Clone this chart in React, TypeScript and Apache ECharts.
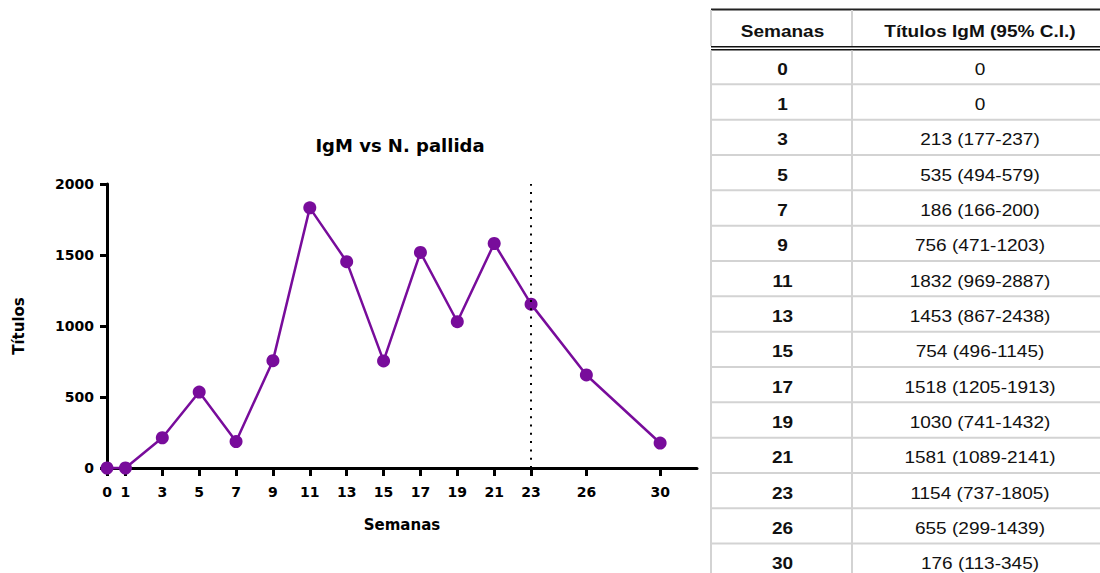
import React, { useEffect, useRef } from "react";
import * as echarts from "echarts";

// ---- data ----
const weeks = [0, 1, 3, 5, 7, 9, 11, 13, 15, 17, 19, 21, 23, 26, 30];
const titers = [0, 0, 213, 535, 186, 756, 1832, 1453, 754, 1518, 1030, 1581, 1154, 655, 176];
const ciLow: (number | null)[] = [null, null, 177, 494, 166, 471, 969, 867, 496, 1205, 741, 1089, 737, 299, 113];
const ciHigh: (number | null)[] = [null, null, 237, 579, 200, 1203, 2887, 2438, 1145, 1913, 1432, 2141, 1805, 1439, 345];
const xTickValues = [0, 1, 3, 5, 7, 9, 11, 13, 15, 17, 19, 21, 23, 26, 30];
const xMax = 32;
const yMax = 2000;
const yInterval = 500;
const markerWeek = 23;
const chartTitle = "IgM vs N. pallida";
const xName = "Semanas";
const yName = "Títulos";
const tableHeaders = ["Semanas", "Títulos IgM (95% C.I.)"];

const PURPLE = "#780c9b";
const CHART_FONT = "DejaVu Sans";
const TABLE_FONT = "Liberation Sans, Arial, sans-serif";

function buildTable(): any[] {
  const x0 = 711;
  const x1 = 852;
  const x2 = 1100;
  const rowTop0 = 49;
  const rowH = 35.33;
  const grey = "#d3d3d3";
  const els: any[] = [];
  els.push({ type: "rect", shape: { x: x0, y: 8.5, width: x2 - x0, height: 2 }, style: { fill: "#222" } });
  els.push({ type: "rect", shape: { x: x0 - 1, y: 10, width: 2, height: 36 }, style: { fill: grey } });
  els.push({ type: "rect", shape: { x: x1 - 1, y: 10, width: 2, height: 36 }, style: { fill: grey } });
  els.push({ type: "rect", shape: { x: x0, y: 45.9, width: x2 - x0, height: 1.5 }, style: { fill: "#111" } });
  els.push({ type: "rect", shape: { x: x0, y: 48.9, width: x2 - x0, height: 1.5 }, style: { fill: "#111" } });
  els.push({ type: "rect", shape: { x: x0 - 1, y: 50.4, width: 2, height: 530 }, style: { fill: grey } });
  els.push({ type: "rect", shape: { x: x1 - 1, y: 50.4, width: 2, height: 530 }, style: { fill: grey } });
  for (let k = 1; k < weeks.length; k++) {
    const y = rowTop0 + rowH * k;
    els.push({ type: "rect", shape: { x: x0, y: y - 1, width: x2 - x0, height: 2 }, style: { fill: grey } });
  }
  const c1 = (x0 + x1) / 2 + 1;
  const c2 = 980;
  const sx = 1.12;
  els.push({
    type: "text", x: c1, y: 31, scaleX: sx,
    style: { text: tableHeaders[0], fill: "#111", font: `bold 17px ${TABLE_FONT}`, textAlign: "center", textVerticalAlign: "middle" },
  });
  els.push({
    type: "text", x: c2, y: 31, scaleX: sx,
    style: { text: tableHeaders[1], fill: "#111", font: `bold 17px ${TABLE_FONT}`, textAlign: "center", textVerticalAlign: "middle" },
  });
  weeks.forEach((w, i) => {
    const cy = rowTop0 + rowH * i + 20;
    const lo = ciLow[i];
    const hi = ciHigh[i];
    const val = lo == null || hi == null ? `${titers[i]}` : `${titers[i]} (${lo}-${hi})`;
    els.push({
      type: "text", x: c1, y: cy, scaleX: sx,
      style: { text: String(w), fill: "#111", font: `bold 17px ${TABLE_FONT}`, textAlign: "center", textVerticalAlign: "middle" },
    });
    els.push({
      type: "text", x: c2, y: cy, scaleX: sx,
      style: { text: val, fill: "#111", font: `17px ${TABLE_FONT}`, textAlign: "center", textVerticalAlign: "middle" },
    });
  });
  return els;
}

export default function App() {
  const ref = useRef<HTMLDivElement>(null);
  useEffect(() => {
    const chart = echarts.init(ref.current!, null, { renderer: "svg" });
    const axisText = { fontFamily: CHART_FONT, fontWeight: "bold" as const, color: "#000" };
    const option: any = {
      animation: false,
      backgroundColor: "#fff",
      grid: { left: 107, right: 403, top: 184, bottom: 105, containLabel: false },
      xAxis: {
        type: "value",
        min: 0,
        max: xMax,
        axisLine: { show: true, onZero: false, lineStyle: { color: "#000", width: 3 } },
        axisTick: { show: true, length: 8, lineStyle: { color: "#000", width: 3 }, customValues: xTickValues },
        axisLabel: { ...axisText, fontSize: 14, margin: 17, customValues: xTickValues, formatter: (v: number) => String(v) },
        splitLine: { show: false },
        name: xName,
        nameLocation: "middle",
        nameGap: 49,
        nameTextStyle: { ...axisText, fontSize: 15 },
      },
      yAxis: {
        type: "value",
        min: 0,
        max: yMax,
        interval: yInterval,
        axisLine: { show: true, onZero: false, lineStyle: { color: "#000", width: 3 } },
        axisTick: { show: true, length: 7, lineStyle: { color: "#000", width: 3 } },
        axisLabel: { ...axisText, fontSize: 14, margin: 13, formatter: (v: number) => String(v) },
        splitLine: { show: false },
        name: yName,
        nameLocation: "middle",
        nameGap: 81,
        nameTextStyle: { ...axisText, fontSize: 15 },
      },
      series: [
        {
          type: "line",
          data: weeks.map((w, i) => [w, titers[i]]),
          symbol: "circle",
          symbolSize: 13,
          clip: false,
          lineStyle: { color: PURPLE, width: 2.5 },
          itemStyle: { color: PURPLE },
          markLine: {
            silent: true,
            symbol: ["none", "none"],
            label: { show: false },
            lineStyle: { color: "#000", type: [2, 6.3], width: 2 },
            data: [{ xAxis: markerWeek }],
          },
        },
      ],
      graphic: [
        {
          type: "text",
          x: 400,
          y: 145,
          style: {
            text: chartTitle,
            fill: "#000",
            font: `bold 18px ${CHART_FONT}`,
            textAlign: "center",
            textVerticalAlign: "middle",
          },
        },
        ...buildTable(),
      ],
    };
    chart.setOption(option);
    return () => chart.dispose();
  }, []);
  return (
    <div
      ref={ref}
      style={{ position: "fixed", left: 0, top: 0, width: 1100, height: 573, background: "#fff" }}
    />
  );
}
